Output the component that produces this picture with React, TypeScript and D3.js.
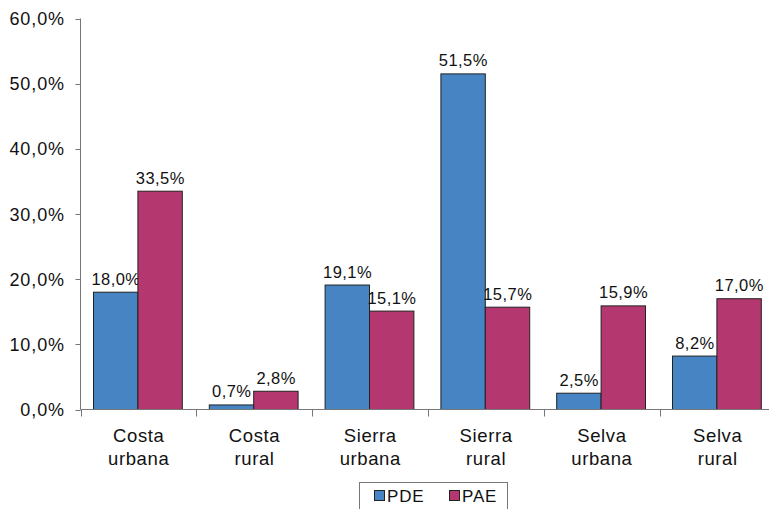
import React, { useEffect, useRef } from 'react';
import * as d3 from 'd3';

const categories = [
  ['Costa', 'urbana'],
  ['Costa', 'rural'],
  ['Sierra', 'urbana'],
  ['Sierra', 'rural'],
  ['Selva', 'urbana'],
  ['Selva', 'rural'],
];
const seriesNames = ['PDE', 'PAE'];
const pdeValues = [18.0, 0.7, 19.1, 51.5, 2.5, 8.2];
const paeValues = [33.5, 2.8, 15.1, 15.7, 15.9, 17.0];
const yTicks = [0, 10, 20, 30, 40, 50, 60];
const colors = ['#4684C4', '#B5376F'];

const fmt = (v: number) => v.toFixed(1).replace('.', ',') + '%';

const App = () => {
  const svgRef = useRef<SVGSVGElement>(null);

  useEffect(() => {
    const svg = d3.select(svgRef.current);
    const font = '"Liberation Sans", Arial, sans-serif';
    const left = 80.5;
    const catW = 115.8;
    const top = 18.5;
    const bottom = 409.5;

    const keys = categories.map((c) => c.join(' '));
    const x = d3
      .scaleBand()
      .domain(keys)
      .range([left, left + catW * keys.length]);
    const xs = d3
      .scaleBand()
      .domain(seriesNames)
      .range([13, catW - 14]);
    const y = d3.scaleLinear().domain([0, 60]).range([bottom, top]);

    const g = svg.append('g');

    // bars + value labels
    const series = [pdeValues, paeValues];
    series.forEach((vals, si) => {
      g.selectAll(`.bar${si}`)
        .data(vals)
        .enter()
        .append('rect')
        .attr('x', (d, i) => (x(keys[i]) as number) + (xs(seriesNames[si]) as number))
        .attr('y', (d) => y(d))
        .attr('width', xs.bandwidth())
        .attr('height', (d) => bottom - y(d))
        .attr('fill', colors[si])
        .attr('stroke', '#222')
        .attr('stroke-width', 1);

      g.selectAll(`.lab${si}`)
        .data(vals)
        .enter()
        .append('text')
        .attr('x', (d, i) => (x(keys[i]) as number) + (xs(seriesNames[si]) as number) + xs.bandwidth() / 2 + 0.25)
        .attr('y', (d) => y(d) - 7.5)
        .attr('text-anchor', 'middle')
        .attr('font-family', font)
        .attr('font-size', 16.5)
        .attr('letter-spacing', 0.45)
        .attr('fill', '#111')
        .text((d) => fmt(d));
    });

    // y axis
    g.append('line')
      .attr('x1', left).attr('x2', left)
      .attr('y1', top).attr('y2', bottom)
      .attr('stroke', '#777');
    yTicks.forEach((t) => {
      g.append('line')
        .attr('x1', left - 5).attr('x2', left)
        .attr('y1', Math.round(y(t)) + 0.5).attr('y2', Math.round(y(t)) + 0.5)
        .attr('stroke', '#777');
      g.append('text')
        .attr('x', 65)
        .attr('y', y(t) + 6.5)
        .attr('text-anchor', 'end')
        .attr('font-family', font)
        .attr('font-size', 18)
        .attr('letter-spacing', 0.9)
        .attr('fill', '#111')
        .text(fmt(t));
    });

    // x axis
    g.append('line')
      .attr('x1', left).attr('x2', left + catW * keys.length)
      .attr('y1', bottom).attr('y2', bottom)
      .attr('stroke', '#777');
    keys.forEach((k, i) => {
      const x0 = Math.round(x(k) as number) + 0.5;
      g.append('line')
        .attr('x1', x0).attr('x2', x0)
        .attr('y1', bottom).attr('y2', bottom + 7)
        .attr('stroke', '#777');
      const t = g.append('text')
        .attr('text-anchor', 'middle')
        .attr('font-family', font)
        .attr('font-size', 18.5)
        .attr('letter-spacing', 0.6)
        .attr('fill', '#111');
      categories[i].forEach((line, li) => {
        t.append('tspan')
          .attr('x', (x(k) as number) + catW / 2 + 0.3)
          .attr('y', 442 + li * 23)
          .text(line);
      });
    });

    // legend
    const lg = g.append('g');
    lg.append('rect')
      .attr('x', 359.5).attr('y', 482.5)
      .attr('width', 148).attr('height', 40)
      .attr('fill', 'none')
      .attr('stroke', '#777');
    const lx = [374, 449];
    seriesNames.forEach((s, i) => {
      lg.append('rect')
        .attr('x', lx[i] + 0.5).attr('y', 490.5)
        .attr('width', 10).attr('height', 10)
        .attr('fill', colors[i])
        .attr('stroke', '#222');
      lg.append('text')
        .attr('x', lx[i] + 13)
        .attr('y', 502)
        .attr('font-family', font)
        .attr('font-size', 17)
        .attr('letter-spacing', 0.8)
        .attr('fill', '#111')
        .text(s);
    });

    return () => {
      svg.selectAll('*').remove();
    };
  }, []);

  return (
    <svg
      ref={svgRef}
      width={769}
      height={509}
      style={{ position: 'absolute', left: 0, top: 0, background: '#fff' }}
    />
  );
};

export default App;
